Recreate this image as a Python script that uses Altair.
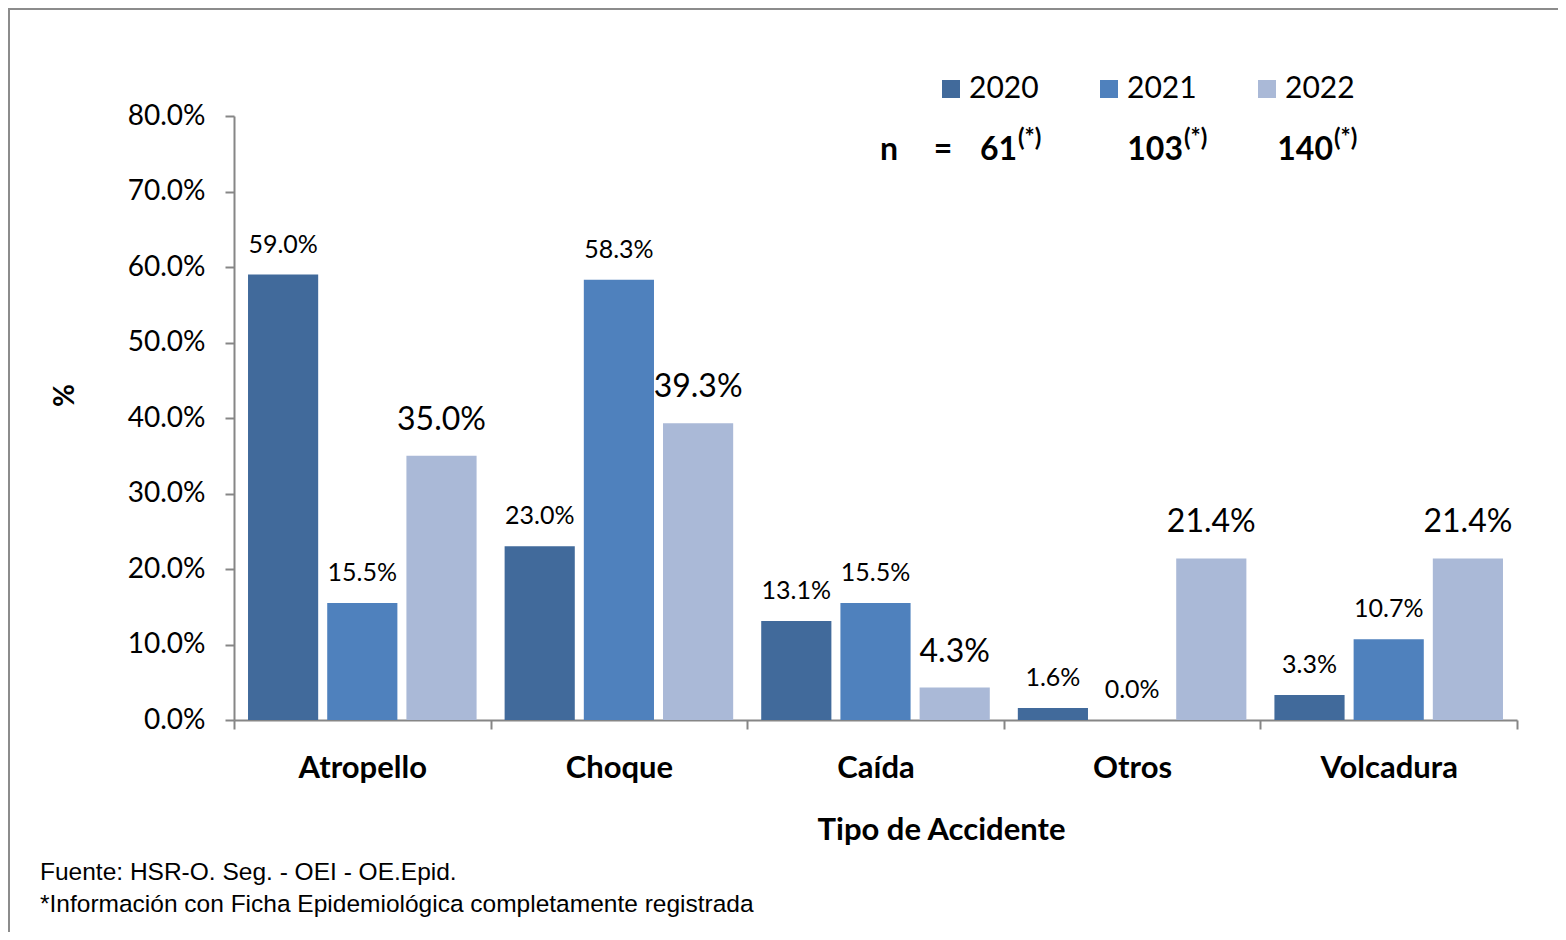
import altair as alt
import pandas as pd

categories = ["Atropello", "Choque", "Caída", "Otros", "Volcadura"]
years = ["2020", "2021", "2022"]
v2020 = [59.0, 23.0, 13.1, 1.6, 3.3]
v2021 = [15.5, 58.3, 15.5, 0.0, 10.7]
v2022 = [35.0, 39.3, 4.3, 21.4, 21.4]
n_values = [61, 103, 140]
colors = ["#416A9B", "#4F81BD", "#AAB9D7"]
footnotes = ["Fuente: HSR-O. Seg. - OEI - OE.Epid.",
             "*Información con Ficha Epidemiológica completamente registrada"]

rows = []
for yr, vals in zip(years, [v2020, v2021, v2022]):
    for c, v in zip(categories, vals):
        rows.append({"cat": c, "year": yr, "val": v})
df = pd.DataFrame(rows)

W, H = 1283, 604
PL, PT, PR, PB = 226, 108, 41, 212
FONT = "Lato"
AX = "#868686"

x = alt.X("cat:N", sort=categories, title="Tipo de Accidente",
          scale=alt.Scale(paddingInner=0, paddingOuter=0),
          axis=alt.Axis(labelFont=FONT, labelFontSize=31, labelFontWeight="bold",
                        labelColor="black", labelAngle=0, labelPadding=24,
                        tickBand="extent", tickSize=9, tickColor=AX, tickWidth=2,
                        domainColor=AX, domainWidth=2,
                        titleFont=FONT, titleFontSize=31, titleFontWeight="bold",
                        titleColor="black", titleX=707, titleY=110,
                        titleAlign="center", titleBaseline="middle"))
xo = alt.XOffset("year:N", sort=years,
                 scale=alt.Scale(paddingInner=0.114, paddingOuter=0.177))
y = alt.Y("val:Q", title="%",
          scale=alt.Scale(domain=[0, 80], nice=False),
          axis=alt.Axis(values=[0, 10, 20, 30, 40, 50, 60, 70, 80],
                        labelExpr="format(datum.value, '.1f') + '%'",
                        labelFont=FONT, labelFontSize=28, labelColor="black",
                        labelPadding=20, tickSize=9, tickColor=AX, tickWidth=2,
                        domainColor=AX, domainWidth=2, grid=False,
                        titleFont=FONT, titleFontSize=28, titleFontWeight="bold",
                        titleColor="black", titleX=-169, titleY=279,
                        titleAlign="center", titleBaseline="middle", titleAngle=-90))

color = alt.Color("year:N", sort=years,
                  scale=alt.Scale(domain=years, range=colors),
                  legend=alt.Legend(title=None, orient="none", direction="horizontal",
                                    legendX=702, legendY=-42, padding=0,
                                    symbolType="square", symbolSize=324,
                                    symbolStrokeWidth=0, labelFont=FONT,
                                    labelFontSize=30, labelColor="black",
                                    labelOffset=3, columnPadding=55))

base = alt.Chart(df)
bars = base.mark_bar(strokeWidth=0).encode(x=x, xOffset=xo, y=y, color=color)

lab = base.transform_calculate(label="format(datum.val, '.1f') + '%'")
small = lab.transform_filter("datum.year != '2022'").mark_text(
    font=FONT, fontSize=25, baseline="middle", dy=-30, color="black"
).encode(x=alt.X("cat:N", sort=categories), xOffset=alt.XOffset("year:N", sort=years),
         y="val:Q", text="label:N")
large = lab.transform_filter("datum.year == '2022'").mark_text(
    font=FONT, fontSize=32, baseline="middle", dy=-36, color="black"
).encode(x=alt.X("cat:N", sort=categories), xOffset=alt.XOffset("year:N", sort=years),
         y="val:Q", text="label:N")

def txt(t, px, py, size, align="left", weight="bold", font=FONT, baseline="middle"):
    return alt.Chart(pd.DataFrame({"a": [0]})).mark_text(
        font=font, fontSize=size, fontWeight=weight, align=align,
        baseline=baseline, color="black"
    ).encode(x=alt.value(px), y=alt.value(py), text=alt.value(t))

ann = [txt("n", 655, 34, 32, align="center"), txt("=", 709, 34, 32, align="center")]
for n, xe in zip(n_values, [783, 949, 1099]):
    ann.append(txt(str(n), xe, 34, 32, align="right"))
    ann.append(txt("(*)", xe + 1, 23, 24, align="left"))

ann.append(txt(footnotes[0], -194, 757, 24.5, weight="normal", font="Liberation Sans"))
ann.append(txt(footnotes[1], -194, 789, 24.5, weight="normal", font="Liberation Sans"))

border = alt.Chart(pd.DataFrame({"a": [0]})).mark_rect(
    fill=None, stroke="#8C8C8C", strokeWidth=2
).encode(x=alt.value(-225), y=alt.value(-107), x2=alt.value(W + PR + 20),
         y2=alt.value(H + PB + 20))

chart = alt.layer(bars, small, large, border, *ann).properties(
    width=W, height=H,
    autosize=alt.AutoSizeParams(type="none"),
    padding={"left": PL, "top": PT, "right": PR, "bottom": PB},
).configure(background="white").configure_view(strokeWidth=0, stroke="transparent")

chart.save("out.html", embed_options={"renderer": "svg", "actions": False})
